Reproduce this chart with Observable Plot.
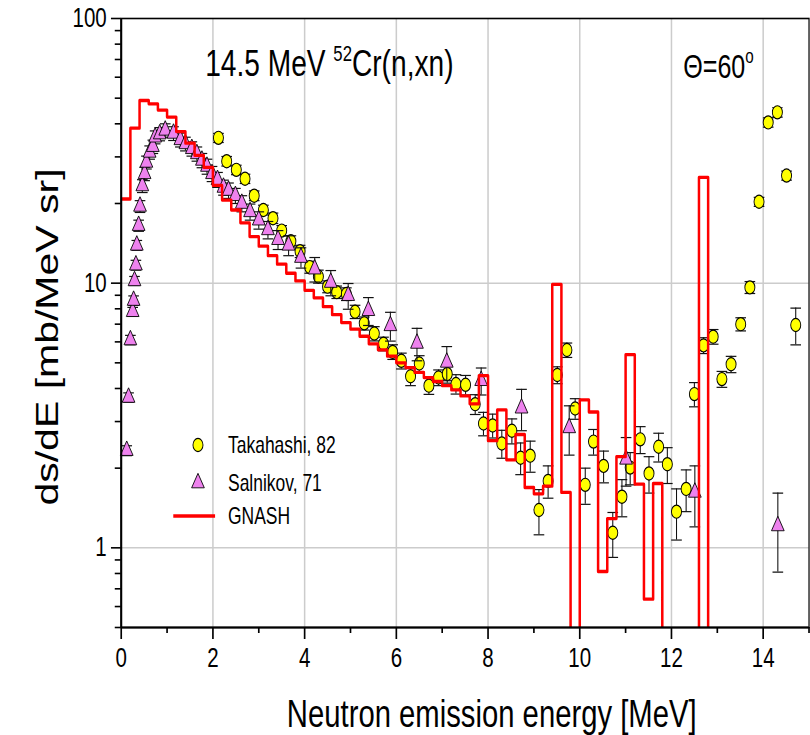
<!DOCTYPE html>
<html><head><meta charset="utf-8">
<script src="https://cdn.jsdelivr.net/npm/d3@7"></script>
<script src="https://cdn.jsdelivr.net/npm/@observablehq/plot@0.6"></script>
<style>
html,body{margin:0;padding:0;overflow:hidden;background:#fff;width:810px;height:735px}
#wrap{position:absolute;left:0;top:0;width:1066px;height:735px;transform:scaleX(0.76);transform-origin:0 0}
</style></head><body><div id="wrap"></div>
<script>
// ---- data ----
const gnashE = [0,0.2,0.4,0.6,0.8,1.0,1.2,1.4,1.6,1.8,2.0,2.2,2.4,2.6,2.8,3.0,3.2,3.4,3.6,3.8,4.0,4.2,4.4,4.6,4.8,5.0,5.2,5.4,5.6,5.8,6.0,6.2,6.4,6.6,6.8,7.0,7.2,7.4,7.6,7.8,8.0,8.2,8.4,8.6,8.8,9.0,9.2,9.4,9.6,9.8,10.0,10.2,10.4,10.6,10.8,11.0,11.2,11.4,11.6,11.8,12.0,12.2,12.4,12.6,12.8];
const gnashV = [20.8,38.5,49.0,47.6,45.1,42.4,37.4,33.8,30.4,27.4,23.4,20.6,18.9,16.9,15.0,13.8,12.7,11.8,10.9,10.2,9.4,8.8,8.15,7.6,7.1,6.7,6.3,5.9,5.6,5.3,5.0,4.8,4.6,4.4,4.25,4.1,3.95,3.75,3.5,4.47,2.54,3.32,2.15,2.68,1.69,1.60,1.71,9.9,1.62,0,3.62,3.26,0.814,1.29,2.21,5.37,1.74,0.64,1.75,0,0,0,0,25.1,0];

const takE = [2.12,2.30,2.51,2.70,2.90,3.10,3.31,3.50,3.70,3.90,4.11,4.30,4.50,4.70,4.91,5.10,5.30,5.52,5.72,5.92,6.11,6.31,6.50,6.71,6.92,7.11,7.30,7.51,7.72,7.90,8.10,8.30,8.52,8.71,8.92,9.11,9.31,9.51,9.72,9.90,10.12,10.30,10.52,10.72,10.92,11.10,11.32,11.51,11.72,11.91,12.11,12.32,12.50,12.70,12.91,13.10,13.30,13.51,13.71,13.91,14.11,14.31,14.51,14.71];
const takV = [35.4,28.9,26.8,24.8,21.4,18.9,17.6,15.8,14.4,13.2,11.5,10.6,9.7,9.25,9.1,7.8,7.05,6.45,5.9,5.5,5.09,4.45,4.97,4.10,4.40,4.54,4.16,4.13,3.49,2.95,2.90,2.48,2.77,2.19,2.23,1.39,1.79,4.50,5.59,3.36,1.73,2.52,2.04,1.14,1.56,2.01,2.57,1.91,2.41,2.07,1.37,1.67,3.81,5.82,6.28,4.34,4.94,7.0,9.64,20.3,40.5,44.2,25.5,6.95];
const takErr = [1.4,1.2,1.1,1.0,0.9,0.8,0.8,0.7,0.7,0.7,0.6,0.6,0.5,0.5,0.5,0.45,0.4,0.4,0.35,0.35,0.35,0.35,0.35,0.3,0.3,0.35,0.35,0.35,0.3,0.3,0.3,0.3,0.3,0.3,0.3,0.27,0.25,0.33,0.35,0.3,0.27,0.28,0.28,0.22,0.25,0.28,0.3,0.3,0.3,0.32,0.3,0.3,0.4,0.4,0.4,0.3,0.35,0.4,0.5,0.8,1.6,1.8,1.0,1.1];

const salE = [0.12,0.16,0.20,0.25,0.27,0.29,0.32,0.34,0.38,0.41,0.46,0.51,0.55,0.62,0.69,0.74,0.84,0.96,1.14,1.29,1.40,1.54,1.65,1.76,1.87,1.98,2.10,2.23,2.34,2.49,2.63,2.81,3.00,3.20,3.42,3.65,3.92,4.22,4.57,4.95,5.39,5.87,6.45,7.10,7.85,8.73,9.77,11.01,12.51,14.32];
const salV = [2.33,3.7,6.1,7.8,8.6,10.2,11.7,13.9,16.5,19.5,23.3,25.9,28.6,31.2,32.8,35.6,36.6,37.8,36.8,34.8,33.6,32.2,30.8,29.1,27.6,25.9,24.6,23.0,22.4,21.4,20.0,18.6,17.3,15.9,14.6,13.9,12.5,11.3,10.06,8.97,7.87,6.9,5.92,5.02,4.28,3.37,2.84,2.16,1.62,1.21];
const salErr = [0.1,0.15,0.25,0.3,0.35,0.4,0.5,0.6,0.8,1.0,1.3,1.5,1.6,1.8,1.9,2.0,2.1,2.2,2.2,2.1,2.0,2.0,1.9,1.8,1.8,1.7,1.6,1.5,1.5,1.4,1.4,1.3,1.3,1.2,1.2,1.2,1.1,1.2,1.1,1.0,0.95,0.86,0.83,0.74,0.5,0.6,0.6,0.45,0.42,0.4];

const xMajor = [0,2,4,6,8,10,12,14];
const xMinor = [1,3,5,7,9,11,13,15];
const yMajor = [1,10,100];
const yMinor = [0.5,0.6,0.7,0.8,0.9,2,3,4,5,6,7,8,9,20,30,40,50,60,70,80,90];
const gridX = [2,4,6,8,10,12,14];
const gridY = [1,10];

// ---- tables ----
const gnash = gnashE.map((e,i)=>({e, v: gnashV[i]}));
const tak = takE.map((e,i)=>({e, v: takV[i], err: takErr[i]}));
const sal = salE.map((e,i)=>({e, v: salV[i], err: salErr[i]}));

const FONT = "'Liberation Sans', Arial, Helvetica, sans-serif";
const cap = {draw(ctx, size){ const r = Math.sqrt(size/Math.PI); ctx.moveTo(-r,0); ctx.lineTo(r,0); }};

const TR = 6.2, CR = 6.6;

const svg = Plot.plot({
  width: 1066, height: 735,
  marginLeft: 159, marginRight: 2, marginTop: 18, marginBottom: 108,
  style: {fontFamily: FONT, background: "white", color: "black"},
  x: {domain: [0, 15]},
  y: {type: "log", domain: [0.5, 100]},
  marks: [
    Plot.ruleX(gridX, {stroke: "#cccccc", strokeWidth: 2}),
    Plot.ruleY(gridY, {stroke: "#cccccc", strokeWidth: 1.5}),
    // Takahashi
    Plot.ruleX(tak, {x: "e", y1: d=>d.v-d.err, y2: d=>d.v+d.err, stroke: "#111", strokeWidth: 1.4}),
    Plot.dot(tak, {x: "e", y: d=>d.v+d.err, symbol: cap, r: 7, stroke: "#111", strokeWidth: 1.2}),
    Plot.dot(tak, {x: "e", y: d=>d.v-d.err, symbol: cap, r: 7, stroke: "#111", strokeWidth: 1.2}),
    Plot.dot(tak, {x: "e", y: "v", r: CR, fill: "#ffff00", stroke: "black", strokeWidth: 1.2}),
    // Salnikov
    Plot.ruleX(sal, {x: "e", y1: d=>d.v-d.err, y2: d=>d.v+d.err, stroke: "#111", strokeWidth: 1.4}),
    Plot.dot(sal, {x: "e", y: d=>d.v+d.err, symbol: cap, r: 7, stroke: "#111", strokeWidth: 1.2}),
    Plot.dot(sal, {x: "e", y: d=>d.v-d.err, symbol: cap, r: 7, stroke: "#111", strokeWidth: 1.2}),
    Plot.dot(sal, {x: "e", y: "v", symbol: "triangle", r: TR, fill: "#ee82ee", stroke: "black", strokeWidth: 1}),
    // GNASH
    Plot.line(gnash, {x: "e", y: d=>Math.max(d.v, 0.001), curve: "step-after", stroke: "#ff0000", strokeWidth: 3.3, clip: true}),
    // axes
    Plot.axisX(xMajor, {anchor: "bottom", tickSize: 12, tickPadding: 8, fontSize: 27, strokeWidth: 2.2, tickFormat: d=>String(d), label: null}),
    Plot.axisX(xMinor, {anchor: "bottom", tickSize: 6, strokeWidth: 2.2, tickFormat: ()=>"", label: null}),
    Plot.axisY(yMajor, {anchor: "left", tickSize: 13, tickPadding: 6, fontSize: 27, strokeWidth: 1.6, tickFormat: d=>String(d), label: null}),
    Plot.axisY(yMinor, {anchor: "left", tickSize: 8, strokeWidth: 1.6, tickFormat: ()=>"", label: null}),
    Plot.frame({stroke: "black", strokeWidth: 1.6}),
    Plot.ruleY([0.5], {stroke: "black", strokeWidth: 2}),
    Plot.ruleX([0], {stroke: "black", strokeWidth: 2.7})
  ]
});

const s = d3.select(svg);
const T = (x, y, txt, size, anchor="start") => s.append("text").attr("x", x).attr("y", y)
  .attr("font-family", FONT).attr("font-size", size).attr("fill", "black").attr("text-anchor", anchor).text(txt);

// title
const t1 = s.append("text").attr("x", 270).attr("y", 76).attr("text-anchor", "start").attr("font-family", FONT).attr("font-size", 37).attr("fill", "black");
t1.append("tspan").text("14.5 MeV ");
t1.append("tspan").attr("font-size", 22).attr("dy", -15).text("52");
t1.append("tspan").attr("dy", 15).text("Cr(n,xn)");

const t2 = s.append("text").attr("x", 899).attr("y", 78).attr("text-anchor", "start").attr("font-family", FONT).attr("font-size", 33).attr("fill", "black");
t2.append("tspan").text("\u0398=60");
t2.append("tspan").attr("font-size", 20).attr("dy", -15).text("o");

// axis titles
T(647, 727, "Neutron emission energy [MeV]", 38.5, "middle");
s.append("text").attr("transform", "translate(62,337) rotate(-90)").attr("dy", "0.35em")
  .attr("font-family", FONT).attr("font-size", 41).attr("fill", "black").attr("text-anchor", "middle")
  .text("ds/dE [mb/MeV sr]");

// legend
const lx = 260.5;
s.append("circle").attr("cx", lx).attr("cy", 445).attr("r", CR).attr("fill", "#ffff00").attr("stroke", "black").attr("stroke-width", 1.2);
T(300, 445, "Takahashi, 82", 23).attr("dy", "0.35em");
s.append("path").attr("d", d3.symbol(d3.symbolTriangle, TR*TR*Math.PI)()).attr("transform", `translate(${lx},483)`)
  .attr("fill", "#ee82ee").attr("stroke", "black").attr("stroke-width", 1);
T(300, 483, "Salnikov, 71", 23).attr("dy", "0.35em");
s.append("line").attr("x1", 228).attr("x2", 283).attr("y1", 516).attr("y2", 516).attr("stroke", "#ff0000").attr("stroke-width", 3.3);
T(300, 516, "GNASH", 23).attr("dy", "0.35em");

document.getElementById("wrap").appendChild(svg);
</script>
</body></html>
